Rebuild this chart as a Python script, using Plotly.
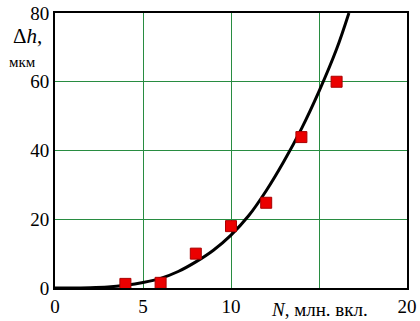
import plotly.graph_objects as go

# measured points
pts_x = [4, 6, 8, 10, 12, 14, 16]
pts_y = [1.2, 1.5, 10, 18, 24.8, 43.9, 60]

# fitted curve
curve_x = [0, 2, 3, 4, 5, 6, 7, 8, 9, 10, 11, 12, 13, 14, 15, 16, 16.7]
curve_y = [0, 0.1, 0.3, 0.8, 1.6, 2.8, 4.8, 7.6, 11, 15.4, 21, 28.3, 36.8, 46.3, 57.2, 69.5, 80]

x_ticks = [0, 5, 10, 15, 20]
x_ticktext = ["0", "5", "10", "", "20"]
y_ticks = [0, 20, 40, 60, 80]

FONT = "Liberation Serif, DejaVu Serif, serif"
GRID = "rgb(40,140,65)"

fig = go.Figure()
fig.add_trace(go.Scatter(x=curve_x, y=curve_y, mode="lines",
                         line=dict(color="black", width=3, shape="spline", smoothing=1),
                         showlegend=False, hoverinfo="skip"))
fig.add_trace(go.Scatter(x=pts_x, y=pts_y, mode="markers",
                         marker=dict(symbol="square", size=11, color="rgb(235,0,0)",
                                     line=dict(color="rgb(170,0,0)", width=1)),
                         showlegend=False, cliponaxis=False, hoverinfo="skip"))

fig.update_layout(
    width=420, height=321,
    margin=dict(l=55, r=13, t=13, b=33),
    paper_bgcolor="white", plot_bgcolor="white",
    font=dict(family=FONT, size=19, color="black"),
    xaxis=dict(range=[0, 20], tickvals=x_ticks, ticktext=x_ticktext,
               showgrid=True, gridcolor=GRID, gridwidth=1, automargin=False,
               showline=True, linecolor="black", linewidth=2, mirror=True,
               zeroline=False, ticks="", tickfont=dict(size=19, family=FONT)),
    yaxis=dict(range=[0, 80], tickvals=y_ticks,
               showgrid=True, gridcolor=GRID, gridwidth=1, automargin=False,
               showline=True, linecolor="black", linewidth=2, mirror=True,
               zeroline=False, ticks="", tickfont=dict(size=19, family=FONT)),
    annotations=[
        dict(text="<i>N</i>, млн. вкл.", x=15, y=0, xref="x", yref="y",
             xanchor="center", yanchor="top", yshift=-9, showarrow=False,
             font=dict(size=19, family=FONT)),
        dict(text="Δ<i>h</i>,", x=0, y=0.916, xref="paper", yref="paper",
             xanchor="center", yanchor="middle", xshift=-28, showarrow=False,
             font=dict(size=21, family=FONT)),
        dict(text="мкм", x=0, y=0.822, xref="paper", yref="paper",
             xanchor="center", yanchor="middle", xshift=-33, showarrow=False,
             font=dict(size=15, family=FONT)),
    ],
)

fig.write_html("out.html", config={"displayModeBar": False},
               post_script="document.body.style.margin='0';")
